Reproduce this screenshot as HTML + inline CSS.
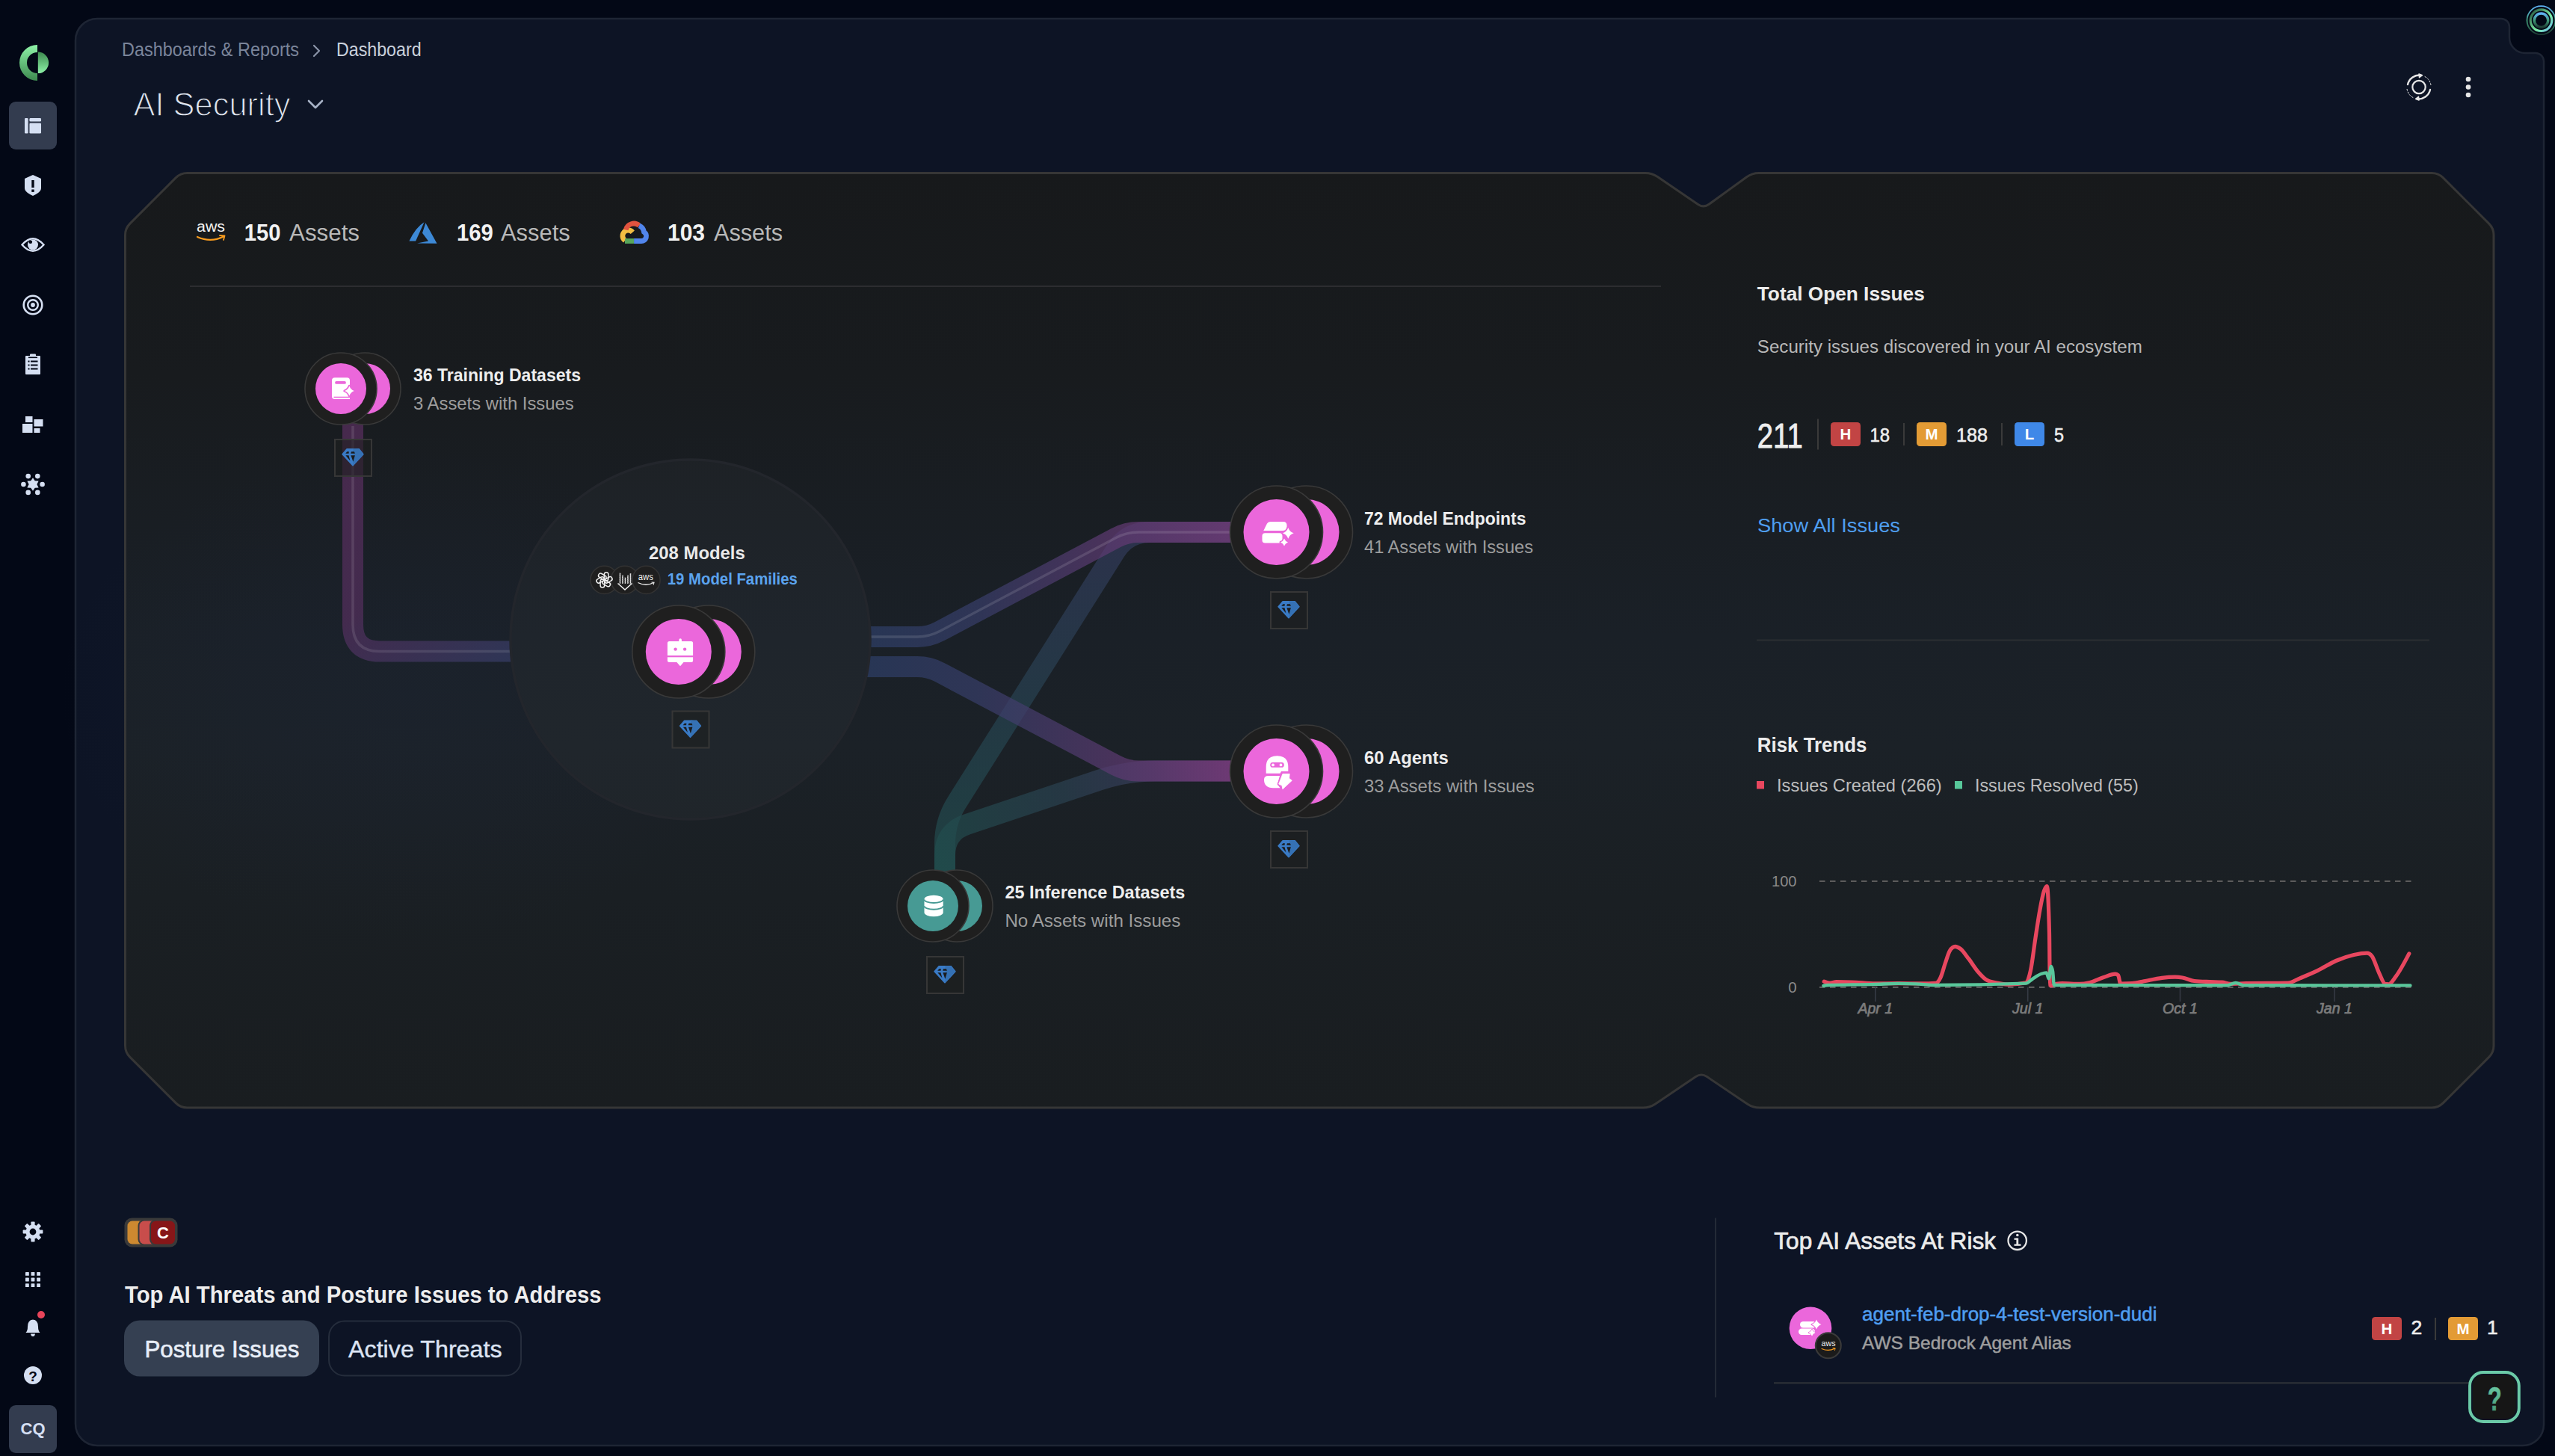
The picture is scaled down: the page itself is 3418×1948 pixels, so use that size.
<!DOCTYPE html>
<html lang="en"><head><meta charset="utf-8"><title>AI Security Dashboard</title>
<style>
html,body{margin:0;padding:0;background:#030816;width:100%;height:100%;overflow:hidden}
svg{display:block;width:100vw;height:100vh}
text{font-family:'Liberation Sans', 'DejaVu Sans', sans-serif}
</style></head><body>
<svg width="3418" height="1948" viewBox="0 0 3418 1948" font-family="'Liberation Sans', 'DejaVu Sans', sans-serif">
<defs>
<linearGradient id="cardg" x1="0" y1="0" x2="0" y2="1">
 <stop offset="0" stop-color="#17191b"/><stop offset="0.215" stop-color="#181b1e"/><stop offset="0.495" stop-color="#1a2027"/><stop offset="0.615" stop-color="#1b2127"/><stop offset="0.775" stop-color="#1a1f23"/><stop offset="1" stop-color="#191d20"/>
</linearGradient>
<linearGradient id="cardgU" gradientUnits="userSpaceOnUse" x1="0" y1="231.5" x2="0" y2="1482">
 <stop offset="0" stop-color="#17191b"/><stop offset="0.215" stop-color="#181b1e"/><stop offset="0.495" stop-color="#1a2027"/><stop offset="0.615" stop-color="#1b2127"/><stop offset="0.775" stop-color="#1a1f23"/><stop offset="1" stop-color="#191d20"/>
</linearGradient>
<linearGradient id="logoL" x1="0" y1="0" x2="0" y2="1">
 <stop offset="0" stop-color="#8ef2a8"/><stop offset="1" stop-color="#3d8a4f"/>
</linearGradient>
<linearGradient id="logoR" x1="0" y1="0" x2="0" y2="1">
 <stop offset="0" stop-color="#3d8a4f"/><stop offset="1" stop-color="#8ef2a8"/>
</linearGradient>
<linearGradient id="ringA" x1="0" y1="0" x2="0" y2="1">
 <stop offset="0" stop-color="#5fb2f5"/><stop offset="0.5" stop-color="#3f9a78"/><stop offset="1" stop-color="#1d3b33"/>
</linearGradient>
<linearGradient id="ringB" x1="1" y1="1" x2="0" y2="0">
 <stop offset="0" stop-color="#6bb8f0"/><stop offset="0.4" stop-color="#7df0a6"/><stop offset="1" stop-color="#1f4a36"/>
</linearGradient>
<radialGradient id="glow1" cx="0.5" cy="0.5" r="0.5">
 <stop offset="0" stop-color="#1f2a44" stop-opacity="0.75"/><stop offset="0.55" stop-color="#1f2a44" stop-opacity="0.4"/><stop offset="1" stop-color="#1f2a44" stop-opacity="0"/>
</radialGradient>
</defs>
<rect x="0" y="0" width="3418" height="1948" fill="#030816"/>
<path d="M130,25 L3346,25 A11,11 0 0 1 3357,36 L3357,50 A21,21 0 0 0 3378,71 L3392,71 A11,11 0 0 1 3403,82 L3403,1906 A28,28 0 0 1 3375,1934 L130,1934 A29,29 0 0 1 101,1905 L101,54 A29,29 0 0 1 130,25 Z" fill="#0d1425" stroke="#1e2534" stroke-width="2.5"/>
<path d="M167.5,314.5 Q167.5,305.5 173.9,299.1 L235.1,237.9 Q241.5,231.5 250.5,231.5 L2201.0,231.5 Q2210.0,231.5 2217.4,236.6 L2271.6,273.4 Q2279.0,278.5 2286.3,273.2 L2336.7,236.8 Q2344.0,231.5 2353.0,231.5 L3253.0,231.5 Q3262.0,231.5 3268.4,237.9 L3329.6,299.1 Q3336.0,305.5 3336.0,314.5 L3336.0,1399.0 Q3336.0,1408.0 3329.6,1414.4 L3268.4,1475.6 Q3262.0,1482.0 3253.0,1482.0 L2354.0,1482.0 Q2345.0,1482.0 2337.5,1477.0 L2283.5,1440.5 Q2276.0,1435.5 2268.5,1440.5 L2214.5,1477.0 Q2207.0,1482.0 2198.0,1482.0 L250.5,1482.0 Q241.5,1482.0 235.1,1475.6 L173.9,1414.4 Q167.5,1408.0 167.5,1399.0 Z" fill="url(#cardg)" stroke="#363636" stroke-width="3" stroke-linejoin="round"/>
<ellipse cx="540" cy="930" rx="460" ry="330" fill="url(#glow1)" opacity="0.22"/>
<rect x="254" y="382" width="1968" height="2" fill="#2c2d30"/>
<rect x="2350" y="855.5" width="900" height="2" fill="#2b2e32"/>
<path d="M50,60 A24,24 0 0 0 50,108 L50,98 A14,14 0 0 1 50,70 Z" fill="url(#logoL)"/>
<path d="M50.8,69.5 A14.3,14.3 0 0 1 50.8,98.1 Z" fill="url(#logoR)"/>
<rect x="12" y="136" width="64" height="64" rx="9" fill="#333c4f"/>
<rect x="33" y="158" width="4.6" height="20.5" rx="1.3" fill="#d5dff2"/>
<rect x="39.5" y="158" width="15.5" height="4.6" rx="1.3" fill="#d5dff2"/>
<rect x="39.5" y="164.8" width="15.5" height="13.7" rx="1.3" fill="#d5dff2"/>
<path d="M44,234 L55,239 L55,252 Q55,257 44,262 Q33,257 33,252 L33,239 Z" fill="#d5dff2"/>
<rect x="42.3" y="241" width="3.4" height="10" fill="#030816"/><rect x="42.3" y="253.5" width="3.4" height="3.4" fill="#030816"/>
<path d="M29.5,327.5 Q44,311 58.5,327.5 Q44,344 29.5,327.5 Z" fill="none" stroke="#d5dff2" stroke-width="2.4"/>
<circle cx="44" cy="327.5" r="7" fill="#d5dff2"/><circle cx="40.8" cy="323.8" r="2.3" fill="#030816"/>
<circle cx="44" cy="408" r="12.3" fill="none" stroke="#d5dff2" stroke-width="2.6"/>
<circle cx="44" cy="408" r="6.8" fill="none" stroke="#d5dff2" stroke-width="2.4"/>
<circle cx="44" cy="408" r="2.9" fill="#d5dff2"/>
<rect x="34" y="476" width="20" height="25" rx="1" fill="#d5dff2"/>
<rect x="40" y="473.5" width="8" height="4" rx="1" fill="#d5dff2"/>
<rect x="38" y="477.5" width="12" height="1.6" fill="#030816"/>
<rect x="37.5" y="482.5" width="2" height="2" fill="#030816"/><rect x="41" y="482.5" width="9.5" height="2" fill="#030816"/>
<rect x="37.5" y="487.5" width="2" height="2" fill="#030816"/><rect x="41" y="487.5" width="9.5" height="2" fill="#030816"/>
<rect x="37.5" y="492.5" width="2" height="2" fill="#030816"/><rect x="41" y="492.5" width="9.5" height="2" fill="#030816"/>
<rect x="34" y="557" width="9.5" height="8" fill="#d5dff2"/>
<rect x="45.5" y="561" width="12" height="9.5" fill="#d5dff2"/>
<rect x="30" y="567" width="13.5" height="12" fill="#d5dff2"/>
<rect x="45.5" y="573" width="8" height="6" fill="#d5dff2"/>
<polygon points="44.00,639.20 41.30,643.32 36.38,643.60 38.60,648.00 36.38,652.40 41.30,652.68 44.00,656.80 46.70,652.68 51.62,652.40 49.40,648.00 51.62,643.60 46.70,643.32" fill="#d5dff2"/>
<circle cx="56.60" cy="648.00" r="3.3" fill="#d5dff2"/>
<circle cx="50.30" cy="637.09" r="3.3" fill="#d5dff2"/>
<circle cx="37.70" cy="637.09" r="3.3" fill="#d5dff2"/>
<circle cx="31.40" cy="648.00" r="3.3" fill="#d5dff2"/>
<circle cx="37.70" cy="658.91" r="3.3" fill="#d5dff2"/>
<circle cx="50.30" cy="658.91" r="3.3" fill="#d5dff2"/>
<rect x="41.4" y="1634.6" width="5.2" height="6" rx="1" fill="#d5dff2" transform="rotate(0 44 1648)"/>
<rect x="41.4" y="1634.6" width="5.2" height="6" rx="1" fill="#d5dff2" transform="rotate(45 44 1648)"/>
<rect x="41.4" y="1634.6" width="5.2" height="6" rx="1" fill="#d5dff2" transform="rotate(90 44 1648)"/>
<rect x="41.4" y="1634.6" width="5.2" height="6" rx="1" fill="#d5dff2" transform="rotate(135 44 1648)"/>
<rect x="41.4" y="1634.6" width="5.2" height="6" rx="1" fill="#d5dff2" transform="rotate(180 44 1648)"/>
<rect x="41.4" y="1634.6" width="5.2" height="6" rx="1" fill="#d5dff2" transform="rotate(225 44 1648)"/>
<rect x="41.4" y="1634.6" width="5.2" height="6" rx="1" fill="#d5dff2" transform="rotate(270 44 1648)"/>
<rect x="41.4" y="1634.6" width="5.2" height="6" rx="1" fill="#d5dff2" transform="rotate(315 44 1648)"/>
<circle cx="44" cy="1648" r="9.6" fill="#d5dff2"/>
<circle cx="44" cy="1648" r="4.4" fill="#030816"/>
<rect x="34.0" y="1702.0" width="4.8" height="4.8" rx="0.6" fill="#d5dff2"/>
<rect x="41.6" y="1702.0" width="4.8" height="4.8" rx="0.6" fill="#d5dff2"/>
<rect x="49.2" y="1702.0" width="4.8" height="4.8" rx="0.6" fill="#d5dff2"/>
<rect x="34.0" y="1709.6" width="4.8" height="4.8" rx="0.6" fill="#d5dff2"/>
<rect x="41.6" y="1709.6" width="4.8" height="4.8" rx="0.6" fill="#d5dff2"/>
<rect x="49.2" y="1709.6" width="4.8" height="4.8" rx="0.6" fill="#d5dff2"/>
<rect x="34.0" y="1717.2" width="4.8" height="4.8" rx="0.6" fill="#d5dff2"/>
<rect x="41.6" y="1717.2" width="4.8" height="4.8" rx="0.6" fill="#d5dff2"/>
<rect x="49.2" y="1717.2" width="4.8" height="4.8" rx="0.6" fill="#d5dff2"/>
<path d="M34.5,1783 Q37,1781 37,1775 Q37,1766 44,1765.5 Q51,1766 51,1775 Q51,1781 53.5,1783 Z" fill="#d5dff2"/>
<path d="M41,1784.5 L47,1784.5 Q46.5,1788 44,1788 Q41.5,1788 41,1784.5 Z" fill="#d5dff2"/>
<circle cx="55" cy="1759" r="5" fill="#e8445a"/>
<circle cx="44" cy="1840" r="12" fill="#d5dff2"/>
<text x="44" y="1847.5" font-size="19" font-weight="700" fill="#030816" text-anchor="middle">?</text>
<rect x="12" y="1880" width="64" height="64" rx="9" fill="#333c4f"/>
<text x="44.0" y="1918.5" font-size="22" font-weight="700" fill="#d5dff2" text-anchor="middle">CQ</text>
<text x="163.0" y="75.0" font-size="25" font-weight="400" fill="#7b859b" text-anchor="start" textLength="237.0" lengthAdjust="spacingAndGlyphs">Dashboards &amp; Reports</text>
<path d="M420,61 L427,68 L420,75" fill="none" stroke="#8a94a8" stroke-width="2.2" stroke-linecap="round" stroke-linejoin="round"/>
<text x="450.0" y="75.0" font-size="25" font-weight="400" fill="#c9d0dc" text-anchor="start" textLength="113.6" lengthAdjust="spacingAndGlyphs">Dashboard</text>
<text x="178.5" y="155.0" font-size="43.5" font-weight="400" fill="#dfe5f0" text-anchor="start" textLength="210.0" lengthAdjust="spacingAndGlyphs" stroke="#0d1425" stroke-width="1.3">AI Security</text>
<path d="M413,135 L422,144 L431,135" fill="none" stroke="#a7b2c6" stroke-width="2.6" stroke-linecap="round" stroke-linejoin="round"/>
<g fill="none" stroke="#e6e6e6" stroke-linecap="round"><circle cx="3236" cy="116.5" r="8.7" stroke-width="2.2"/><path d="M3221,113 A16,16 0 0 1 3238.5,100.6" stroke-width="2.4"/><path d="M3251,120 A16,16 0 0 1 3233.5,132.4" stroke-width="2.4"/><path d="M3244,102.5 A16,16 0 0 1 3252,114" stroke-width="1" stroke-dasharray="2 2"/><path d="M3228,130.5 A16,16 0 0 1 3220,119" stroke-width="1" stroke-dasharray="2 2"/></g>
<path d="M3236,99 L3240.5,100.7 L3236.5,103.6 Z" fill="#e6e6e6" stroke="#e6e6e6" stroke-width="1.5" stroke-linejoin="round"/>
<path d="M3236,134 L3231.5,132.3 L3235.5,129.4 Z" fill="#e6e6e6" stroke="#e6e6e6" stroke-width="1.5" stroke-linejoin="round"/>
<circle cx="3302" cy="106" r="3.3" fill="#e6e6e6"/>
<circle cx="3302" cy="116.5" r="3.3" fill="#e6e6e6"/>
<circle cx="3302" cy="127" r="3.3" fill="#e6e6e6"/>
<circle cx="3399.5" cy="27.2" r="19" fill="#030816"/>
<circle cx="3399.5" cy="27.2" r="19" fill="none" stroke="url(#ringA)" stroke-width="1.8"/>
<circle cx="3399.5" cy="27.2" r="14.3" fill="none" stroke="url(#ringB)" stroke-width="3.2"/>
<circle cx="3399.5" cy="27.2" r="9.2" fill="none" stroke="url(#ringA)" stroke-width="3.4"/>
<defs>
<linearGradient id="gTr" gradientUnits="userSpaceOnUse" x1="472" y1="600" x2="690" y2="872"><stop offset="0" stop-color="#5a2f60"/><stop offset="0.5" stop-color="#552f5e"/><stop offset="1" stop-color="#383e68"/></linearGradient>
<linearGradient id="gME" gradientUnits="userSpaceOnUse" x1="1165" y1="0" x2="1650" y2="0"><stop offset="0" stop-color="#2e3f68"/><stop offset="0.3" stop-color="#383e6a"/><stop offset="0.7" stop-color="#643a74"/><stop offset="1" stop-color="#7b3d80"/></linearGradient>
<linearGradient id="gMA" gradientUnits="userSpaceOnUse" x1="1165" y1="0" x2="1650" y2="0"><stop offset="0" stop-color="#2e3f68"/><stop offset="0.3" stop-color="#383e6a"/><stop offset="0.7" stop-color="#5f3a72"/><stop offset="1" stop-color="#7a3c7e"/></linearGradient>
<linearGradient id="gIE" gradientUnits="userSpaceOnUse" x1="0" y1="1170" x2="0" y2="712"><stop offset="0" stop-color="#214e4e"/><stop offset="0.45" stop-color="#264350"/><stop offset="1" stop-color="#333a5c"/></linearGradient>
<linearGradient id="gIA" gradientUnits="userSpaceOnUse" x1="1264" y1="1170" x2="1650" y2="1031"><stop offset="0" stop-color="#214e4e"/><stop offset="0.45" stop-color="#2a4150"/><stop offset="0.75" stop-color="#3a3d5e"/><stop offset="1" stop-color="#683a74"/></linearGradient>
</defs>
<path d="M1264.0,1175.0 L1264.0,1129.0 Q1264.0,1099.0 1280.0,1073.6 L1492.0,737.4 Q1508.0,712.0 1538.0,712.0 L1650.0,712.0" fill="none" stroke="url(#gIE)" stroke-width="28" stroke-opacity="0.7"/>
<path d="M1264.0,1175.0 L1264.0,1144.0 Q1264.0,1113.0 1293.4,1103.1 L1471.0,1043.6 Q1507.0,1031.5 1545.0,1031.5 L1650.0,1031.5" fill="none" stroke="url(#gIA)" stroke-width="28" stroke-opacity="0.7"/>
<path d="M1150.0,892.0 L1227.0,892.0 Q1243.0,892.0 1257.1,899.5 L1492.9,1024.0 Q1507.0,1031.5 1523.0,1031.5 L1650.0,1031.5" fill="none" stroke="url(#gMA)" stroke-width="28" stroke-opacity="0.7"/>
<path d="M1150.0,852.0 L1227.0,852.0 Q1243.0,852.0 1257.1,844.5 L1492.9,719.5 Q1507.0,712.0 1523.0,712.0 L1650.0,712.0" fill="none" stroke="url(#gME)" stroke-width="28" stroke-opacity="0.7"/>
<path d="M472.0,560.0 L472.0,835.5 Q472.0,871.5 508.0,871.5 L700.0,871.5" fill="none" stroke="url(#gTr)" stroke-width="28" stroke-opacity="0.7"/>
<path d="M1150.0,852.0 L1227.0,852.0 Q1243.0,852.0 1257.1,844.5 L1492.9,719.5 Q1507.0,712.0 1523.0,712.0 L1650.0,712.0" fill="none" stroke="#ffffff" stroke-opacity="0.12" stroke-width="3.4"/>
<path d="M472.0,570.0 L472.0,835.5 Q472.0,871.5 508.0,871.5 L700.0,871.5" fill="none" stroke="#ffffff" stroke-opacity="0.11" stroke-width="3.6"/>
<circle cx="923.5" cy="855.6" r="240.5" fill="url(#cardgU)"/>
<circle cx="923.5" cy="855.6" r="240.5" fill="#ffffff" fill-opacity="0.022" stroke="#23262c" stroke-width="3.5"/>
<circle cx="488" cy="520" r="48" fill="#1f1f1f" stroke="#393939" stroke-width="1.6"/>
<circle cx="488" cy="520" r="34" fill="#eb67db"/>
<circle cx="456" cy="520" r="48" fill="#1f1f1f" stroke="#393939" stroke-width="1.6"/>
<circle cx="456" cy="520" r="34" fill="#eb67db"/>
<rect x="444" y="505.2" width="24" height="28.8" rx="3.8" fill="#ffffff"/>
<rect x="464" y="529" width="4" height="5" fill="#ffffff"/>
<rect x="448.1" y="510" width="14.8" height="3.8" rx="1.9" fill="#eb67db"/>
<rect x="446.5" y="530.7" width="21.5" height="1.4" fill="#eb67db"/>
<path d="M467.4,516.6 Q469.06399999999996,521.336 473.79999999999995,523 Q469.06399999999996,524.664 467.4,529.4 Q465.736,524.664 461.0,523 Q465.736,521.336 467.4,516.6 Z" fill="#eb67db" stroke="#eb67db" stroke-width="3.4" stroke-linejoin="round"/>
<path d="M467.4,516.6 Q469.06399999999996,521.336 473.79999999999995,523 Q469.06399999999996,524.664 467.4,529.4 Q465.736,524.664 461.0,523 Q465.736,521.336 467.4,516.6 Z" fill="#ffffff"/>
<rect x="448" y="588" width="49" height="49" fill="#1e1f20" fill-opacity="0.6" stroke="#363636" stroke-width="2"/>
<polygon points="464.10,600.80 480.20,600.80 485.90,607.70 472.00,622.70 458.10,607.70" fill="#3a7bc6" stroke="#3a7bc6" stroke-width="1.6" stroke-linejoin="round"/>
<polygon points="472.50,600.10 480.20,600.80 485.90,607.70 472.00,622.70 473.00,616.00" fill="#3571b4"/>
<polygon points="462.20,606.70 464.30,604.20 466.90,604.20 466.50,606.70" fill="#1a1b1d"/>
<polygon points="470.00,604.20 473.90,604.20 474.90,606.70 469.20,606.70" fill="#1a1b1d"/>
<polygon points="462.40,609.30 466.50,609.30 468.40,616.50" fill="#1a1b1d"/>
<polygon points="469.40,609.30 474.90,609.30 472.40,617.70" fill="#1a1b1d"/>
<circle cx="947.8" cy="872" r="62" fill="#1f1f1f" stroke="#393939" stroke-width="1.6"/>
<circle cx="947.8" cy="872" r="44" fill="#eb67db"/>
<circle cx="907.8" cy="872" r="62" fill="#1f1f1f" stroke="#393939" stroke-width="1.6"/>
<circle cx="907.8" cy="872" r="44" fill="#eb67db"/>
<rect x="892.9" y="858.1" width="34.2" height="27.9" rx="2.5" fill="#ffffff"/>
<rect x="908.3" y="854.2" width="3.6" height="6" rx="1.8" fill="#ffffff"/>
<path d="M904.5,885 L915.3,885 L910,891.3 Z" fill="#ffffff"/>
<circle cx="903.6" cy="868.6" r="2.2" fill="#eb67db"/><circle cx="916.1" cy="868.6" r="2.2" fill="#eb67db"/>
<rect x="892" y="877" width="36" height="2.3" fill="#eb67db"/>
<rect x="899.5" y="951.5" width="49" height="49" fill="#1e1f20" fill-opacity="0.6" stroke="#363636" stroke-width="2"/>
<polygon points="915.60,964.30 931.70,964.30 937.40,971.20 923.50,986.20 909.60,971.20" fill="#3a7bc6" stroke="#3a7bc6" stroke-width="1.6" stroke-linejoin="round"/>
<polygon points="924.00,963.60 931.70,964.30 937.40,971.20 923.50,986.20 924.50,979.50" fill="#3571b4"/>
<polygon points="913.70,970.20 915.80,967.70 918.40,967.70 918.00,970.20" fill="#1a1b1d"/>
<polygon points="921.50,967.70 925.40,967.70 926.40,970.20 920.70,970.20" fill="#1a1b1d"/>
<polygon points="913.90,972.80 918.00,972.80 919.90,980.00" fill="#1a1b1d"/>
<polygon points="920.90,972.80 926.40,972.80 923.90,981.20" fill="#1a1b1d"/>
<circle cx="1747.5" cy="712" r="62" fill="#1f1f1f" stroke="#393939" stroke-width="1.6"/>
<circle cx="1747.5" cy="712" r="44" fill="#eb67db"/>
<circle cx="1707.5" cy="712" r="62" fill="#1f1f1f" stroke="#393939" stroke-width="1.6"/>
<circle cx="1707.5" cy="712" r="44" fill="#eb67db"/>
<path d="M1699.5,698 L1716.5,698 Q1721.5,698 1721.5,703 L1721.5,704.5 Q1721.5,710 1715.5,710 L1690.3,710 L1695,700.5 Q1696.3,698 1699.5,698 Z" fill="#ffffff"/>
<rect x="1688.5" y="713.3" width="27" height="13.2" rx="3.8" fill="#ffffff"/>
<path d="M1723.3,705.9 Q1725.224,711.376 1730.7,713.3 Q1725.224,715.2239999999999 1723.3,720.6999999999999 Q1721.376,715.2239999999999 1715.8999999999999,713.3 Q1721.376,711.376 1723.3,705.9 Z" fill="#eb67db" stroke="#eb67db" stroke-width="3.4" stroke-linejoin="round"/>
<path d="M1723.3,705.9 Q1725.224,711.376 1730.7,713.3 Q1725.224,715.2239999999999 1723.3,720.6999999999999 Q1721.376,715.2239999999999 1715.8999999999999,713.3 Q1721.376,711.376 1723.3,705.9 Z" fill="#ffffff"/>
<path d="M1718,720.4 Q1719.3,724.1 1723.0,725.4 Q1719.3,726.6999999999999 1718,730.4 Q1716.7,726.6999999999999 1713.0,725.4 Q1716.7,724.1 1718,720.4 Z" fill="#eb67db" stroke="#eb67db" stroke-width="3.0" stroke-linejoin="round"/>
<path d="M1718,720.4 Q1719.3,724.1 1723.0,725.4 Q1719.3,726.6999999999999 1718,730.4 Q1716.7,726.6999999999999 1713.0,725.4 Q1716.7,724.1 1718,720.4 Z" fill="#ffffff"/>
<rect x="1700" y="792" width="49" height="49" fill="#1e1f20" fill-opacity="0.6" stroke="#363636" stroke-width="2"/>
<polygon points="1716.10,804.80 1732.20,804.80 1737.90,811.70 1724.00,826.70 1710.10,811.70" fill="#3a7bc6" stroke="#3a7bc6" stroke-width="1.6" stroke-linejoin="round"/>
<polygon points="1724.50,804.10 1732.20,804.80 1737.90,811.70 1724.00,826.70 1725.00,820.00" fill="#3571b4"/>
<polygon points="1714.20,810.70 1716.30,808.20 1718.90,808.20 1718.50,810.70" fill="#1a1b1d"/>
<polygon points="1722.00,808.20 1725.90,808.20 1726.90,810.70 1721.20,810.70" fill="#1a1b1d"/>
<polygon points="1714.40,813.30 1718.50,813.30 1720.40,820.50" fill="#1a1b1d"/>
<polygon points="1721.40,813.30 1726.90,813.30 1724.40,821.70" fill="#1a1b1d"/>
<circle cx="1747.5" cy="1032" r="62" fill="#1f1f1f" stroke="#393939" stroke-width="1.6"/>
<circle cx="1747.5" cy="1032" r="44" fill="#eb67db"/>
<circle cx="1707.5" cy="1032" r="62" fill="#1f1f1f" stroke="#393939" stroke-width="1.6"/>
<circle cx="1707.5" cy="1032" r="44" fill="#eb67db"/>
<path d="M1693.7,1034.8 L1693.7,1026 Q1693.7,1011.3 1708.5,1011.3 Q1723.3,1011.3 1723.3,1026 L1723.3,1032 L1714,1032 L1712.5,1034.8 Z" fill="#ffffff"/>
<rect x="1699.2" y="1020" width="18.6" height="6.8" rx="3.4" fill="#eb67db"/>
<circle cx="1703" cy="1023.4" r="1.9" fill="#ffffff"/><circle cx="1713.5" cy="1023.4" r="1.9" fill="#ffffff"/>
<path d="M1691,1043 Q1691,1037.9 1697,1037.9 L1712,1037.9 L1709,1049.5 L1712.5,1054.3 L1703,1054.3 Q1691,1054 1691,1043 Z" fill="#ffffff"/>
<path d="M1715.9,1035.4 L1725.2,1035.4 L1724.6,1041.3 L1728.3,1044.3 L1715.9,1055.8 L1715,1050.9 L1710.7,1049 Z" fill="#eb67db" stroke="#eb67db" stroke-width="4" stroke-linejoin="round"/>
<path d="M1715.9,1035.4 L1725.2,1035.4 L1724.6,1041.3 L1728.3,1044.3 L1715.9,1055.8 L1715,1050.9 L1710.7,1049 Z" fill="#ffffff" stroke="#ffffff" stroke-width="0.8" stroke-linejoin="round"/>
<rect x="1700" y="1112" width="49" height="49" fill="#1e1f20" fill-opacity="0.6" stroke="#363636" stroke-width="2"/>
<polygon points="1716.10,1124.80 1732.20,1124.80 1737.90,1131.70 1724.00,1146.70 1710.10,1131.70" fill="#3a7bc6" stroke="#3a7bc6" stroke-width="1.6" stroke-linejoin="round"/>
<polygon points="1724.50,1124.10 1732.20,1124.80 1737.90,1131.70 1724.00,1146.70 1725.00,1140.00" fill="#3571b4"/>
<polygon points="1714.20,1130.70 1716.30,1128.20 1718.90,1128.20 1718.50,1130.70" fill="#1a1b1d"/>
<polygon points="1722.00,1128.20 1725.90,1128.20 1726.90,1130.70 1721.20,1130.70" fill="#1a1b1d"/>
<polygon points="1714.40,1133.30 1718.50,1133.30 1720.40,1140.50" fill="#1a1b1d"/>
<polygon points="1721.40,1133.30 1726.90,1133.30 1724.40,1141.70" fill="#1a1b1d"/>
<circle cx="1280" cy="1212" r="48" fill="#1f1f1f" stroke="#393939" stroke-width="1.6"/>
<circle cx="1280" cy="1212" r="34" fill="#479a94"/>
<circle cx="1248" cy="1212" r="48" fill="#1f1f1f" stroke="#393939" stroke-width="1.6"/>
<circle cx="1248" cy="1212" r="34" fill="#479a94"/>
<path d="M1236.5,1203 A12.6,5.2 0 0 1 1261.7,1203 L1261.7,1221 A12.6,5.2 0 0 1 1236.5,1221 Z" fill="#ffffff"/>
<path d="M1236.5,1203.4 A12.6,4.6 0 0 0 1261.7,1203.4 M1236.5,1212.2 A12.6,4.6 0 0 0 1261.7,1212.2" fill="none" stroke="#479a94" stroke-width="1.9"/>
<rect x="1240" y="1280" width="49" height="49" fill="#1e1f20" fill-opacity="0.6" stroke="#363636" stroke-width="2"/>
<polygon points="1256.10,1292.80 1272.20,1292.80 1277.90,1299.70 1264.00,1314.70 1250.10,1299.70" fill="#3a7bc6" stroke="#3a7bc6" stroke-width="1.6" stroke-linejoin="round"/>
<polygon points="1264.50,1292.10 1272.20,1292.80 1277.90,1299.70 1264.00,1314.70 1265.00,1308.00" fill="#3571b4"/>
<polygon points="1254.20,1298.70 1256.30,1296.20 1258.90,1296.20 1258.50,1298.70" fill="#1a1b1d"/>
<polygon points="1262.00,1296.20 1265.90,1296.20 1266.90,1298.70 1261.20,1298.70" fill="#1a1b1d"/>
<polygon points="1254.40,1301.30 1258.50,1301.30 1260.40,1308.50" fill="#1a1b1d"/>
<polygon points="1261.40,1301.30 1266.90,1301.30 1264.40,1309.70" fill="#1a1b1d"/>
<circle cx="808.5" cy="775.9" r="18.6" fill="#1f1f1f" stroke="#333333" stroke-width="1.6"/>
<circle cx="835.9" cy="775.9" r="18.6" fill="#1f1f1f" stroke="#333333" stroke-width="1.6"/>
<circle cx="864.5" cy="775.9" r="18.6" fill="#1f1f1f" stroke="#333333" stroke-width="1.6"/>
<rect x="805.9" y="765.7" width="5.6" height="11" rx="2.8" fill="none" stroke="#f0f0f0" stroke-width="1.5" transform="rotate(0 808.5 775.9) translate(2.4 0)"/>
<rect x="805.9" y="765.7" width="5.6" height="11" rx="2.8" fill="none" stroke="#f0f0f0" stroke-width="1.5" transform="rotate(60 808.5 775.9) translate(2.4 0)"/>
<rect x="805.9" y="765.7" width="5.6" height="11" rx="2.8" fill="none" stroke="#f0f0f0" stroke-width="1.5" transform="rotate(120 808.5 775.9) translate(2.4 0)"/>
<rect x="805.9" y="765.7" width="5.6" height="11" rx="2.8" fill="none" stroke="#f0f0f0" stroke-width="1.5" transform="rotate(180 808.5 775.9) translate(2.4 0)"/>
<rect x="805.9" y="765.7" width="5.6" height="11" rx="2.8" fill="none" stroke="#f0f0f0" stroke-width="1.5" transform="rotate(240 808.5 775.9) translate(2.4 0)"/>
<rect x="805.9" y="765.7" width="5.6" height="11" rx="2.8" fill="none" stroke="#f0f0f0" stroke-width="1.5" transform="rotate(300 808.5 775.9) translate(2.4 0)"/>
<rect x="828.6" y="766.5" width="1.7" height="14.5" fill="#e8e8e8" stroke="#1f1f1f" stroke-width="0.4" stroke-dasharray="2 1"/>
<rect x="832.1" y="769.5" width="1.7" height="11.5" fill="#e8e8e8" stroke="#1f1f1f" stroke-width="0.4" stroke-dasharray="2 1"/>
<rect x="835.6" y="772.5" width="1.7" height="8.5" fill="#e8e8e8" stroke="#1f1f1f" stroke-width="0.4" stroke-dasharray="2 1"/>
<rect x="839.1" y="769.5" width="1.7" height="11.5" fill="#e8e8e8" stroke="#1f1f1f" stroke-width="0.4" stroke-dasharray="2 1"/>
<rect x="842.6" y="767" width="1.7" height="14.0" fill="#e8e8e8" stroke="#1f1f1f" stroke-width="0.4" stroke-dasharray="2 1"/>
<path d="M826.5,780.5 L836,789 L845.5,780.5" fill="none" stroke="#eeeeee" stroke-width="1.6"/>
<text x="863.8" y="775.7" font-size="13" fill="#eeeeee" text-anchor="middle" textLength="20" lengthAdjust="spacingAndGlyphs">aws</text>
<path d="M853.5,779.5 Q864,785 874.5,779.5" fill="none" stroke="#eeeeee" stroke-width="1.4"/>
<path d="M871.5,779 L875,779.3 L874,782.5" fill="none" stroke="#eeeeee" stroke-width="1.1"/>
<text x="553.0" y="510.2" font-size="23.5" font-weight="700" fill="#eeeeee" text-anchor="start" textLength="224.0" lengthAdjust="spacingAndGlyphs">36 Training Datasets</text>
<text x="553.0" y="547.9" font-size="24" font-weight="400" fill="#9d9d9d" text-anchor="start" textLength="214.7" lengthAdjust="spacingAndGlyphs">3 Assets with Issues</text>
<text x="868.0" y="747.8" font-size="23.5" font-weight="700" fill="#e9e9e9" text-anchor="start" textLength="128.8" lengthAdjust="spacingAndGlyphs">208 Models</text>
<text x="892.8" y="782.0" font-size="22" font-weight="600" fill="#5ba3ee" text-anchor="start" textLength="174.0" lengthAdjust="spacingAndGlyphs">19 Model Families</text>
<text x="1825.0" y="702.0" font-size="23.5" font-weight="700" fill="#eeeeee" text-anchor="start" textLength="216.5" lengthAdjust="spacingAndGlyphs">72 Model Endpoints</text>
<text x="1825.0" y="740.4" font-size="24" font-weight="400" fill="#9d9d9d" text-anchor="start" textLength="226.0" lengthAdjust="spacingAndGlyphs">41 Assets with Issues</text>
<text x="1825.0" y="1022.0" font-size="23.5" font-weight="700" fill="#eeeeee" text-anchor="start" textLength="112.7" lengthAdjust="spacingAndGlyphs">60 Agents</text>
<text x="1825.0" y="1059.6" font-size="24" font-weight="400" fill="#9d9d9d" text-anchor="start" textLength="227.7" lengthAdjust="spacingAndGlyphs">33 Assets with Issues</text>
<text x="1344.4" y="1202.2" font-size="23.5" font-weight="700" fill="#eeeeee" text-anchor="start" textLength="241.0" lengthAdjust="spacingAndGlyphs">25 Inference Datasets</text>
<text x="1344.4" y="1240.2" font-size="24" font-weight="400" fill="#9d9d9d" text-anchor="start" textLength="235.0" lengthAdjust="spacingAndGlyphs">No Assets with Issues</text>
<text x="263" y="310" font-size="20.0" fill="#f2f2f2" textLength="38.0" lengthAdjust="spacingAndGlyphs">aws</text>
<path d="M264.0,317.0 Q282.0,325.0 299.0,316.5" fill="none" stroke="#f79b1e" stroke-width="2.2" stroke-linecap="round"/>
<path d="M294.0,315.0 L300.5,315.5 L299.0,321.0" fill="none" stroke="#f79b1e" stroke-width="1.8" stroke-linecap="round" stroke-linejoin="round"/>
<text x="326.8" y="321.6" font-size="31" font-weight="700" fill="#f2f2f2" text-anchor="start" textLength="48.8" lengthAdjust="spacingAndGlyphs">150</text>
<text x="387.0" y="321.6" font-size="31.5" font-weight="400" fill="#b9b9b9" text-anchor="start" textLength="94.0" lengthAdjust="spacingAndGlyphs">Assets</text>
<path d="M567.5,297.2 Q556,304 547.4,322.6 L556.1,322.4 Z" fill="#3d89d6"/>
<path d="M569.4,298.2 L584.5,325.7 L558,325.5 L573,322.4 L565,311.8 Z" fill="#3d89d6"/>
<text x="611.0" y="321.6" font-size="31" font-weight="700" fill="#f2f2f2" text-anchor="start" textLength="48.8" lengthAdjust="spacingAndGlyphs">169</text>
<text x="670.0" y="321.6" font-size="31.5" font-weight="400" fill="#b9b9b9" text-anchor="start" textLength="92.7" lengthAdjust="spacingAndGlyphs">Assets</text>
<g fill="none" stroke-width="6.8"><path d="M846.3,310.7 A7.6,7.6 0 1 0 836.1,321.8" stroke="#f2bd42"/><path d="M837.2,307.5 A11,11 0 0 1 855.1,301.8" stroke="#e0533f"/><path d="M836,322.5 L848.1,322.5" stroke="#57a65c"/><path d="M848.1,322.5 L858,322.5 A6.6,6.6 0 0 0 861.5,310.3 A11,11 0 0 0 855.1,301.8" stroke="#5185ec"/></g>
<text x="893.0" y="321.6" font-size="31" font-weight="700" fill="#f2f2f2" text-anchor="start" textLength="50.0" lengthAdjust="spacingAndGlyphs">103</text>
<text x="955.0" y="321.6" font-size="31.5" font-weight="400" fill="#b9b9b9" text-anchor="start" textLength="92.0" lengthAdjust="spacingAndGlyphs">Assets</text>
<text x="2350.8" y="401.8" font-size="26.5" font-weight="700" fill="#ececec" text-anchor="start" textLength="224.0" lengthAdjust="spacingAndGlyphs">Total Open Issues</text>
<text x="2350.8" y="471.7" font-size="24.7" font-weight="400" fill="#b8b8b8" text-anchor="start" textLength="515.0" lengthAdjust="spacingAndGlyphs">Security issues discovered in your AI ecosystem</text>
<text x="2350.8" y="598.8" font-size="47" font-weight="400" fill="#ededed" text-anchor="start" textLength="61.0" lengthAdjust="spacingAndGlyphs" stroke="#ededed" stroke-width="0.9" stroke-linejoin="round">211</text>
<rect x="2431" y="560.5" width="2" height="41" fill="#3a3a3a"/>
<rect x="2449" y="565" width="40" height="32" rx="4.5" fill="#c24444"/>
<text x="2469.0" y="588.3" font-size="20.5" font-weight="700" fill="#ffffff" text-anchor="middle">H</text>
<text x="2501.4" y="591.0" font-size="26.5" font-weight="400" fill="#ededed" text-anchor="start" textLength="26.6" lengthAdjust="spacingAndGlyphs" stroke="#ededed" stroke-width="0.6" stroke-linejoin="round">18</text>
<rect x="2546" y="566" width="2" height="30" fill="#3a3a3a"/>
<rect x="2564" y="565" width="40" height="32" rx="4.5" fill="#e39b35"/>
<text x="2584.0" y="588.3" font-size="20.5" font-weight="700" fill="#ffffff" text-anchor="middle">M</text>
<text x="2617.0" y="591.0" font-size="26.5" font-weight="400" fill="#ededed" text-anchor="start" textLength="42.0" lengthAdjust="spacingAndGlyphs" stroke="#ededed" stroke-width="0.6" stroke-linejoin="round">188</text>
<rect x="2677" y="566" width="2" height="30" fill="#3a3a3a"/>
<rect x="2695" y="565" width="40" height="32" rx="4.5" fill="#3f88e8"/>
<text x="2715.0" y="588.3" font-size="20.5" font-weight="700" fill="#ffffff" text-anchor="middle">L</text>
<text x="2748.0" y="591.0" font-size="26.5" font-weight="400" fill="#ededed" text-anchor="start" textLength="13.0" lengthAdjust="spacingAndGlyphs" stroke="#ededed" stroke-width="0.6" stroke-linejoin="round">5</text>
<text x="2351.0" y="711.9" font-size="26.5" font-weight="400" fill="#4f9ef0" text-anchor="start" textLength="191.0" lengthAdjust="spacingAndGlyphs">Show All Issues</text>
<text x="2350.8" y="1005.8" font-size="28" font-weight="700" fill="#ececec" text-anchor="start" textLength="146.7" lengthAdjust="spacingAndGlyphs">Risk Trends</text>
<rect x="2350" y="1045" width="10" height="10.5" fill="#e8475f"/>
<text x="2377.0" y="1058.5" font-size="24.3" font-weight="400" fill="#bdbdbd" text-anchor="start" textLength="220.7" lengthAdjust="spacingAndGlyphs">Issues Created (266)</text>
<rect x="2615" y="1045" width="10" height="10.5" fill="#57c89a"/>
<text x="2642.0" y="1058.5" font-size="24.3" font-weight="400" fill="#bdbdbd" text-anchor="start" textLength="218.8" lengthAdjust="spacingAndGlyphs">Issues Resolved (55)</text>
<text x="2403.5" y="1186.3" font-size="20.4" font-weight="400" fill="#8a8a8a" text-anchor="end" textLength="33.5" lengthAdjust="spacingAndGlyphs">100</text>
<text x="2403.5" y="1327.8" font-size="20.4" font-weight="400" fill="#8a8a8a" text-anchor="end">0</text>
<path d="M2434,1179 L3226,1179" stroke="#5c5c5c" stroke-width="2.2" stroke-dasharray="7.5 6.5"/>
<path d="M2434,1320.8 L3226,1320.8" stroke="#5c5c5c" stroke-width="2.2" stroke-dasharray="7.5 6.5"/>
<rect x="2508.0" y="1321" width="1.6" height="19" fill="#353a44"/>
<text x="2508.8" y="1355.8" font-size="19.6" font-weight="400" fill="#7c7c7c" text-anchor="middle" font-style="italic" stroke="#7c7c7c" stroke-width="0.7" stroke-linejoin="round">Apr 1</text>
<rect x="2711.9" y="1321" width="1.6" height="19" fill="#353a44"/>
<text x="2712.7" y="1355.8" font-size="19.6" font-weight="400" fill="#7c7c7c" text-anchor="middle" font-style="italic" stroke="#7c7c7c" stroke-width="0.7" stroke-linejoin="round">Jul 1</text>
<rect x="2915.7" y="1321" width="1.6" height="19" fill="#353a44"/>
<text x="2916.5" y="1355.8" font-size="19.6" font-weight="400" fill="#7c7c7c" text-anchor="middle" font-style="italic" stroke="#7c7c7c" stroke-width="0.7" stroke-linejoin="round">Oct 1</text>
<rect x="3122.2" y="1321" width="1.6" height="19" fill="#353a44"/>
<text x="3123.0" y="1355.8" font-size="19.6" font-weight="400" fill="#7c7c7c" text-anchor="middle" font-style="italic" stroke="#7c7c7c" stroke-width="0.7" stroke-linejoin="round">Jan 1</text>
<path d="M2440.2,1313.2 C2442.5,1314.2 2444.9,1315.2 2447.2,1315.2 C2450.3,1315.2 2453.5,1313.7 2456.6,1313.7 C2463.4,1313.7 2470.2,1313.8 2477.0,1314.0 C2487.4,1314.3 2497.9,1315.9 2508.3,1315.9 C2518.7,1315.9 2529.2,1315.6 2539.6,1315.6 C2550.0,1315.6 2560.5,1315.9 2570.9,1315.9 C2577.2,1315.9 2583.4,1315.7 2589.7,1315.3 C2591.8,1315.2 2593.9,1312.2 2596.0,1307.8 C2598.1,1303.4 2600.1,1295.0 2602.2,1289.0 C2604.3,1282.9 2606.4,1275.1 2608.5,1271.8 C2610.8,1268.1 2613.2,1266.3 2615.5,1266.3 C2617.9,1266.3 2620.2,1267.6 2622.6,1269.4 C2626.2,1272.1 2629.9,1278.0 2633.5,1282.7 C2637.7,1288.1 2641.8,1295.2 2646.0,1300.0 C2650.2,1304.9 2654.4,1309.6 2658.6,1311.7 C2663.8,1314.3 2669.0,1314.7 2674.2,1315.6 C2678.9,1316.4 2683.6,1317.2 2688.3,1317.2 C2695.6,1317.2 2702.9,1316.4 2710.2,1314.8 C2712.3,1314.3 2714.4,1308.2 2716.5,1298.4 C2718.6,1288.6 2720.7,1269.8 2722.8,1256.1 C2724.9,1242.6 2726.9,1228.1 2729.0,1217.0 C2730.8,1207.1 2732.7,1197.1 2734.5,1191.9 C2735.8,1188.2 2737.1,1185.7 2738.4,1185.7 C2739.4,1185.7 2740.5,1206.6 2741.5,1248.3 C2741.8,1259.1 2742.0,1317.8 2742.3,1318.0 C2743.1,1318.5 2743.9,1318.7 2744.7,1318.7 C2746.8,1318.7 2748.9,1316.8 2751.0,1316.4 C2753.6,1315.9 2756.2,1315.6 2758.8,1315.6 C2766.6,1315.6 2774.4,1316.4 2782.2,1316.4 C2786.4,1316.4 2790.6,1315.7 2794.8,1314.8 C2801.1,1313.4 2807.3,1309.8 2813.6,1307.8 C2818.9,1306.1 2824.3,1303.2 2829.6,1303.2 C2830.9,1303.2 2832.3,1303.7 2833.6,1304.8 C2834.7,1305.7 2835.7,1316.0 2836.8,1316.0 C2841.9,1316.0 2847.0,1315.9 2852.1,1315.7 C2857.4,1315.5 2862.8,1313.8 2868.1,1312.8 C2876.1,1311.3 2884.2,1309.2 2892.2,1308.3 C2898.1,1307.6 2904.0,1307.2 2909.9,1307.2 C2913.1,1307.2 2916.3,1307.5 2919.5,1308.0 C2924.8,1308.8 2930.2,1311.9 2935.5,1312.5 C2942.5,1313.2 2949.4,1313.3 2956.4,1313.6 C2961.7,1313.8 2967.1,1313.8 2972.4,1314.1 C2976.2,1314.3 2979.9,1316.3 2983.7,1316.3 C2990.6,1316.3 2997.6,1315.8 3004.5,1315.7 C3023.2,1315.4 3042.0,1315.5 3060.7,1315.2 C3066.0,1315.1 3071.4,1311.0 3076.7,1308.8 C3084.7,1305.5 3092.8,1302.3 3100.8,1298.4 C3108.8,1294.5 3116.9,1289.0 3124.9,1285.5 C3132.9,1282.0 3141.0,1279.3 3149.0,1277.5 C3154.9,1276.2 3160.7,1275.1 3166.6,1275.1 C3168.7,1275.1 3170.9,1276.4 3173.0,1279.1 C3176.2,1283.1 3179.4,1295.0 3182.6,1301.6 C3185.3,1307.2 3188.0,1315.7 3190.7,1316.3 C3192.3,1316.6 3193.9,1316.8 3195.5,1316.8 C3198.7,1316.8 3201.9,1310.6 3205.1,1306.4 C3211.0,1298.7 3216.9,1287.3 3222.8,1275.9" fill="none" stroke="#e8475f" stroke-width="5.2" stroke-linejoin="round" stroke-linecap="round"/>
<path d="M2439.4,1318.7 C2441.5,1318.4 2443.6,1318.1 2445.7,1318.0 C2466.6,1317.3 2487.4,1317.5 2508.3,1316.9 C2518.7,1316.6 2529.2,1315.9 2539.6,1315.9 C2547.4,1315.9 2555.2,1316.1 2563.0,1316.4 C2570.9,1316.7 2578.7,1318.0 2586.6,1318.0 C2627.8,1318.0 2669.0,1317.2 2710.2,1315.6 C2713.3,1315.5 2716.5,1311.3 2719.6,1309.3 C2723.3,1307.0 2726.9,1304.3 2730.6,1303.0 C2732.9,1302.2 2735.3,1301.5 2737.6,1301.5 C2738.7,1301.5 2739.7,1309.3 2740.8,1309.3 C2741.8,1309.3 2742.9,1292.9 2743.9,1292.9 C2744.7,1292.9 2745.4,1295.3 2746.2,1300.0 C2746.7,1303.3 2747.3,1318.0 2747.8,1318.0 C2825.2,1318.1 2902.6,1318.2 2980.0,1318.2 C2983.6,1318.2 2987.3,1315.0 2990.9,1315.0 C2994.3,1315.0 2997.6,1318.2 3001.0,1318.2 C3075.5,1318.3 3149.9,1318.4 3224.4,1318.4" fill="none" stroke="#5ac79b" stroke-width="4.4" stroke-linejoin="round" stroke-linecap="round"/>
<rect x="166.5" y="1629.5" width="71" height="39" rx="10" fill="#3a3a3a"/>
<rect x="170.5" y="1633.5" width="32" height="31" rx="6.5" fill="#cd8930"/>
<rect x="184.5" y="1632" width="34.5" height="34" rx="8" fill="#3a3a3a"/>
<rect x="186.5" y="1633.5" width="32" height="31" rx="6.5" fill="#c84d4b"/>
<rect x="200" y="1632" width="35.5" height="34" rx="8" fill="#3a3a3a"/>
<rect x="202" y="1633.5" width="32" height="31" rx="6.5" fill="#871618"/>
<text x="218.0" y="1657.0" font-size="22" font-weight="700" fill="#ffffff" text-anchor="middle">C</text>
<text x="167.0" y="1743.0" font-size="31.5" font-weight="700" fill="#eeeeee" text-anchor="start" textLength="637.5" lengthAdjust="spacingAndGlyphs">Top AI Threats and Posture Issues to Address</text>
<rect x="166" y="1766.5" width="261" height="75" rx="21" fill="#354052"/>
<text x="193.4" y="1815.7" font-size="30.7" font-weight="400" fill="#e8eef8" text-anchor="start" textLength="207.0" lengthAdjust="spacingAndGlyphs" stroke="#e8eef8" stroke-width="0.6" stroke-linejoin="round">Posture Issues</text>
<rect x="440" y="1767.5" width="257" height="73" rx="21" fill="none" stroke="#252d3c" stroke-width="2"/>
<text x="466.0" y="1815.7" font-size="30.7" font-weight="400" fill="#dbe3f2" text-anchor="start" textLength="205.6" lengthAdjust="spacingAndGlyphs" stroke="#dbe3f2" stroke-width="0.4" stroke-linejoin="round">Active Threats</text>
<rect x="2294" y="1629.5" width="2" height="240" fill="#232a37"/>
<text x="2373.3" y="1671.0" font-size="31.4" font-weight="400" fill="#ececec" text-anchor="start" textLength="296.7" lengthAdjust="spacingAndGlyphs" stroke="#ececec" stroke-width="0.7" stroke-linejoin="round">Top AI Assets At Risk</text>
<circle cx="2698.7" cy="1659.8" r="12.2" fill="none" stroke="#e6e6e6" stroke-width="2.3"/>
<rect x="2697.4" y="1656.5" width="2.8" height="9.5" fill="#e6e6e6"/><circle cx="2698.8" cy="1652.5" r="1.8" fill="#e6e6e6"/>
<rect x="2694.5" y="1656.5" width="4" height="2.3" fill="#e6e6e6"/><rect x="2694.5" y="1664.5" width="9" height="2.3" fill="#e6e6e6"/>
<circle cx="2422" cy="1776.8" r="28.3" fill="#eb67db"/>
<rect x="2408" y="1768" width="22" height="8.5" rx="4.2" fill="#ffffff"/>
<rect x="2406" y="1777.5" width="22" height="8.5" rx="4.2" fill="#ffffff"/>
<path d="M2430,1765.5 Q2431.69,1770.31 2436.5,1772 Q2431.69,1773.69 2430,1778.5 Q2428.31,1773.69 2423.5,1772 Q2428.31,1770.31 2430,1765.5 Z" fill="#eb67db" stroke="#eb67db" stroke-width="2" stroke-linejoin="round"/>
<path d="M2430,1765.5 Q2431.69,1770.31 2436.5,1772 Q2431.69,1773.69 2430,1778.5 Q2428.31,1773.69 2423.5,1772 Q2428.31,1770.31 2430,1765.5 Z" fill="#ffffff"/>
<path d="M2424,1778.5 Q2425.17,1781.83 2428.5,1783 Q2425.17,1784.17 2424,1787.5 Q2422.83,1784.17 2419.5,1783 Q2422.83,1781.83 2424,1778.5 Z" fill="#eb67db" stroke="#eb67db" stroke-width="1.6" stroke-linejoin="round"/>
<path d="M2424,1778.5 Q2425.17,1781.83 2428.5,1783 Q2425.17,1784.17 2424,1787.5 Q2422.83,1784.17 2419.5,1783 Q2422.83,1781.83 2424,1778.5 Z" fill="#ffffff"/>
<circle cx="2445.8" cy="1800.3" r="17" fill="#1b1b1b" stroke="#3a3a3a" stroke-width="2"/>
<text x="2436.5" y="1801" font-size="10.0" fill="#f2f2f2" textLength="19.0" lengthAdjust="spacingAndGlyphs">aws</text>
<path d="M2437.0,1804.5 Q2446.0,1808.5 2454.5,1804.2" fill="none" stroke="#f79b1e" stroke-width="1.1" stroke-linecap="round"/>
<path d="M2452.0,1803.5 L2455.2,1803.8 L2454.5,1806.5" fill="none" stroke="#f79b1e" stroke-width="0.9" stroke-linecap="round" stroke-linejoin="round"/>
<text x="2491.0" y="1766.8" font-size="25" font-weight="400" fill="#4f9ef0" text-anchor="start" textLength="394.5" lengthAdjust="spacingAndGlyphs" stroke="#4f9ef0" stroke-width="0.5" stroke-linejoin="round">agent-feb-drop-4-test-version-dudi</text>
<text x="2491.0" y="1805.3" font-size="24.5" font-weight="400" fill="#9e9e9e" text-anchor="start" textLength="279.8" lengthAdjust="spacingAndGlyphs" stroke="#9e9e9e" stroke-width="0.5" stroke-linejoin="round">AWS Bedrock Agent Alias</text>
<rect x="3173" y="1762" width="40" height="31" rx="4.5" fill="#c24444"/>
<text x="3193.0" y="1784.8" font-size="20.5" font-weight="700" fill="#ffffff" text-anchor="middle">H</text>
<text x="3225.4" y="1785.0" font-size="26.5" font-weight="400" fill="#ededed" text-anchor="start" stroke="#ededed" stroke-width="0.6" stroke-linejoin="round">2</text>
<rect x="3257" y="1763" width="2" height="30" fill="#3a3a3a"/>
<rect x="3275" y="1762" width="40" height="31" rx="4.5" fill="#e39b35"/>
<text x="3295.0" y="1784.8" font-size="20.5" font-weight="700" fill="#ffffff" text-anchor="middle">M</text>
<text x="3327.0" y="1785.0" font-size="26.5" font-weight="400" fill="#ededed" text-anchor="start" stroke="#ededed" stroke-width="0.6" stroke-linejoin="round">1</text>
<rect x="2373" y="1849.3" width="934" height="2" fill="#2f3338"/>
<defs><linearGradient id="qg" x1="0" y1="0" x2="0" y2="1"><stop offset="0" stop-color="#72d3ad"/><stop offset="1" stop-color="#3f8f70"/></linearGradient></defs>
<rect x="3304" y="1836" width="65.8" height="66" rx="18" fill="#0e1322" stroke="#6bcaa7" stroke-width="3.9"/>
<rect x="3308" y="1840" width="57.8" height="58" rx="14" fill="#161616"/>
<text x="3337.3" y="1886.5" font-size="45" font-weight="700" fill="url(#qg)" stroke="url(#qg)" stroke-width="0.6" stroke-linejoin="round" text-anchor="middle" textLength="19" lengthAdjust="spacingAndGlyphs">?</text>
</svg>
</body></html>
